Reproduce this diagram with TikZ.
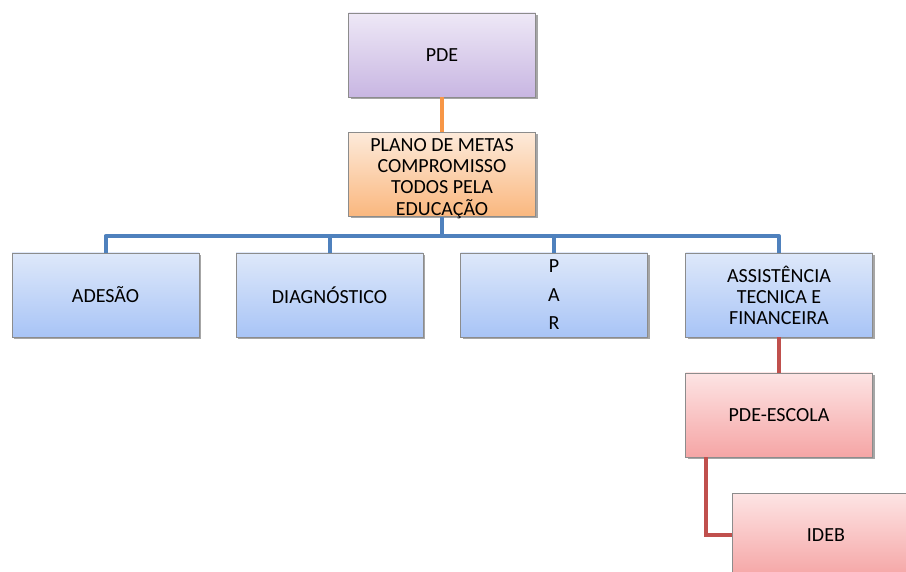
\documentclass[tikz,border=0pt]{standalone}
\usepackage{fontspec}
\setmainfont{Carlito}
\usetikzlibrary{shadows}
\definecolor{lnorange}{HTML}{F79646}
\definecolor{lnblue}{HTML}{4F81BD}
\definecolor{lnred}{HTML}{C0504D}
\definecolor{bordgray}{HTML}{8C8C8C}
\tikzset{
  box/.style={draw=bordgray, line width=0.8pt, minimum width=187pt, minimum height=84pt,
    align=center, inner sep=2pt, font=\fontsize{20}{21}\selectfont,
    drop shadow={shadow xshift=2pt, shadow yshift=-2pt, opacity=0.35, fill=black}},
  purplebox/.style={box, top color={rgb,255:red,238;green,232;blue,246}, bottom color={rgb,255:red,200;green,182;blue,226}},
  orangebox/.style={box, top color={rgb,255:red,253;green,234;blue,218}, bottom color={rgb,255:red,250;green,183;blue,126}},
  bluebox/.style={box, top color={rgb,255:red,222;green,232;blue,250}, bottom color={rgb,255:red,168;green,196;blue,246}},
  redbox/.style={box, top color={rgb,255:red,253;green,228;blue,228}, bottom color={rgb,255:red,245;green,165;blue,165}},
  conn/.style={line width=4pt},
}
\begin{document}
\begin{tikzpicture}[x=1pt,y=-1pt]
\useasboundingbox (0,0) rectangle (906,572);
\clip (0,0) rectangle (906,572);
\node[purplebox] (pde) at (442,55) {PDE};
\node[orangebox] (plano) at (442,174.5) {\raisebox{-10pt}[0pt][0pt]{\begin{tabular}{@{}c@{}}PLANO DE METAS\\COMPROMISSO\\TODOS PELA\\EDUCAÇÃO\end{tabular}}};
\node[bluebox] (ades) at (105.5,295) {ADESÃO};
\node[bluebox] (diag) at (329.5,295) {DIAGNÓSTICO};
\node[bluebox, font=\fontsize{20}{28.5}\selectfont] (par) at (554,295) {P\\A\\R};
\node[bluebox] (assist) at (779,295) {ASSISTÊNCIA\\TECNICA E\\FINANCEIRA};
\node[redbox] (escola) at (779,415) {PDE-ESCOLA};
\node[redbox, anchor=north west] (ideb) at (732,493) {IDEB};
\coordinate (bus) at (442,236);
\draw[conn, lnorange] (pde.south) -- (plano.north);
\draw[conn, lnblue] (plano.south) -- (bus);
\draw[conn, lnblue, line join=round] (ades.north) |- (bus) -| (assist.north);
\draw[conn, lnblue] (diag.north) -- (diag.north |- bus);
\draw[conn, lnblue] (par.north) -- (par.north |- bus);
\draw[conn, lnred] (assist.south) -- (escola.north);
\draw[conn, lnred] ([xshift=-73pt]escola.south) |- (ideb.west);
\end{tikzpicture}
\end{document}
